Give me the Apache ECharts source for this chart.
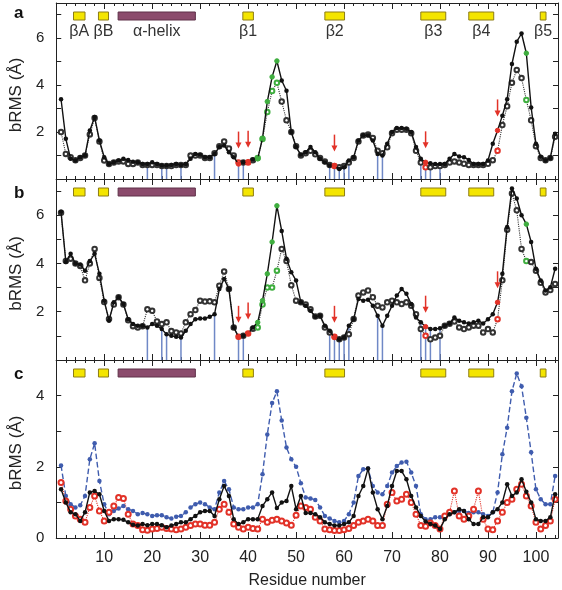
<!DOCTYPE html>
<html><head><meta charset="utf-8">
<script src="https://cdn.jsdelivr.net/npm/echarts@6/dist/echarts.min.js"></script>
<style>html,body{margin:0;padding:0;background:#fff}#chart{width:562px;height:590px}</style>
</head><body><div id="chart"></div>
<script>
const residues = [1,2,3,4,5,6,7,8,9,10,11,12,13,14,15,16,17,18,19,20,21,22,23,24,25,26,27,28,29,30,31,32,33,34,35,36,37,38,39,40,41,42,43,44,45,46,47,48,49,50,51,52,53,54,55,56,57,58,59,60,61,62,63,64,65,66,67,68,69,70,71,72,73,74,75,76,77,78,79,80,81,82,83,84,85,86,87,88,89,90,91,92,93,94,95,96,97,98,99,100,101,102,103,104];

const aFilled = [3.4,1.71,0.86,0.79,0.93,1.0,2.07,2.64,1.64,0.93,
 0.64,0.71,0.79,0.86,0.81,0.74,0.71,0.64,0.64,0.71,
 0.64,0.57,0.57,0.6,0.64,0.6,0.64,0.86,1.07,1.03,
 0.93,0.93,1.07,1.36,1.43,1.14,0.93,0.64,0.71,0.74,
 0.83,0.86,1.74,3.3,4.35,5.03,4.2,3.76,2.0,1.36,
 1.03,1.14,1.36,1.14,0.86,0.71,0.57,0.57,0.43,0.5,
 0.79,0.93,1.64,1.86,1.86,1.64,1.07,1.0,1.5,2.0,
 2.17,2.17,2.14,2.0,1.36,0.86,0.71,0.67,0.64,0.64,
 0.64,0.86,1.07,0.96,0.93,0.81,0.64,0.64,0.64,0.79,
 1.5,2.07,2.7,3.4,4.9,5.85,6.2,5.36,3.05,1.5,
 0.95,0.79,0.9,1.93];
const aOpen = [2.0,1.07,0.93,0.8,0.9,1.0,1.9,2.6,1.6,0.79,
 0.64,0.7,0.75,0.75,0.64,0.64,0.7,0.6,0.6,0.6,
 0.6,0.55,0.55,0.55,0.6,0.6,0.6,1.0,1.0,1.0,
 0.9,0.9,1.1,1.4,1.6,1.3,1.0,0.7,0.7,0.7,
 0.8,0.9,1.7,2.85,3.75,4.1,3.3,2.5,2.0,1.4,
 1.0,1.1,1.2,1.05,0.9,0.75,0.6,0.55,0.5,0.55,
 0.7,0.9,1.6,1.85,1.9,1.75,1.2,1.1,1.35,1.95,
 2.1,2.1,2.1,1.95,1.2,0.7,0.5,0.5,0.55,0.55,
 0.6,0.7,0.75,0.7,0.65,0.6,0.6,0.6,0.6,0.65,
 0.8,1.2,2.3,3.1,4.1,4.65,4.3,3.37,2.5,1.4,
 0.9,0.8,0.9,1.8];
const bFilled = [6.14,4.06,4.4,4.0,3.96,3.7,4.1,4.4,3.57,2.46,
 1.63,2.39,2.6,2.32,1.69,1.49,1.42,1.42,1.35,1.49,
 1.42,1.28,1.07,1.0,0.96,0.93,1.21,1.49,1.69,1.72,
 1.72,1.79,1.9,2.94,3.36,2.94,1.35,0.96,1.0,1.1,
 1.35,1.56,2.46,3.57,4.89,6.39,5.35,4.2,3.64,3.29,
 2.39,2.25,2.04,1.79,1.83,1.42,1.21,0.93,0.86,0.93,
 1.42,1.69,2.53,2.46,2.5,2.25,1.83,1.42,1.83,2.25,
 2.67,2.94,2.74,2.32,1.76,1.56,1.38,1.28,1.28,1.32,
 1.42,1.51,1.76,1.63,1.56,1.51,1.56,1.63,1.51,1.69,
 1.9,2.39,3.57,5.51,7.11,6.69,6.0,5.63,4.89,3.78,
 3.29,2.88,3.01,3.78];
const bOpen = [6.1,4.1,4.2,4.0,3.9,3.3,4.0,4.6,3.4,2.4,
 1.7,2.3,2.6,2.3,1.65,1.4,1.35,1.4,2.1,2.04,
 1.6,1.49,1.56,1.2,1.14,1.1,1.56,1.9,2.07,2.46,
 2.42,2.43,2.39,3.08,3.67,2.94,1.35,0.96,1.0,1.1,
 1.3,1.35,2.3,3.0,3.0,3.7,4.6,4.1,3.1,2.46,
 2.39,2.3,2.1,1.8,1.83,1.35,1.14,0.96,0.86,0.93,
 1.07,1.7,2.67,2.8,2.88,2.6,2.25,2.18,2.39,2.46,
 2.39,2.32,2.39,2.25,1.9,1.28,1.0,0.86,0.93,1.0,
 1.42,1.5,1.6,1.35,1.28,1.35,1.42,1.42,1.14,1.28,
 1.14,1.69,3.3,5.4,6.9,6.2,4.6,4.1,4.06,3.7,
 3.2,2.8,2.9,3.15];
const cBlue = [2.04,1.18,0.95,0.86,0.92,1.18,2.21,2.66,1.6,0.95,
 0.67,0.76,0.83,0.9,0.81,0.76,0.67,0.7,0.67,0.62,
 0.64,0.64,0.58,0.55,0.6,0.62,0.72,0.86,0.95,1.0,
 0.95,0.86,0.81,1.28,1.6,1.37,0.86,0.81,0.81,0.86,
 0.86,0.95,1.79,2.91,3.79,4.12,3.3,2.54,2.21,2.0,
 1.54,1.14,1.11,1.07,0.86,0.62,0.55,0.48,0.44,0.48,
 0.67,1.0,1.74,1.93,1.95,1.46,1.28,1.23,1.46,1.84,
 2.02,2.12,2.14,1.84,1.46,0.67,0.53,0.53,0.58,0.58,
 0.62,0.67,0.72,0.76,0.76,0.7,0.72,0.72,0.67,0.62,
 0.72,1.28,2.35,3.1,4.12,4.62,4.26,3.38,2.41,1.37,
 1.09,0.95,0.95,1.74];
const cBlack = [1.37,1.0,0.72,0.67,0.48,0.72,1.28,1.32,1.23,0.76,
 0.48,0.53,0.53,0.51,0.44,0.37,0.35,0.39,0.36,0.39,
 0.39,0.36,0.3,0.35,0.39,0.44,0.44,0.53,0.62,0.72,
 0.76,0.76,0.62,1.09,1.46,1.18,0.53,0.39,0.44,0.53,
 0.53,0.53,0.9,1.09,1.28,0.84,1.0,1.04,1.46,0.81,
 1.18,0.7,0.7,0.67,0.58,0.44,0.39,0.35,0.35,0.39,
 0.44,0.62,1.18,1.46,1.95,1.28,0.81,0.53,0.9,1.46,
 1.88,1.88,1.65,1.18,0.86,0.62,0.46,0.39,0.35,0.25,
 0.53,0.67,0.72,0.81,0.76,0.53,0.39,0.39,0.58,0.58,
 0.72,0.81,1.0,1.51,1.18,1.28,1.65,1.3,1.0,0.53,
 0.48,0.48,0.58,1.23];
const cRed = [1.56,1.04,0.81,0.62,0.53,0.44,0.86,1.18,0.76,0.48,
 0.72,0.9,1.14,1.11,0.67,0.39,0.35,0.23,0.22,0.25,
 0.27,0.3,0.27,0.25,0.23,0.25,0.3,0.35,0.39,0.39,
 0.36,0.36,0.44,0.81,0.95,0.72,0.39,0.3,0.25,0.3,
 0.27,0.25,0.53,0.44,0.5,0.53,0.48,0.42,0.36,0.64,
 0.9,0.86,0.81,0.58,0.48,0.25,0.23,0.21,0.21,0.23,
 0.27,0.35,0.44,0.48,0.53,0.48,0.35,0.35,0.95,1.28,
 1.04,1.09,1.23,1.0,0.67,0.35,0.33,0.42,0.35,0.25,
 0.62,0.72,1.32,0.62,0.53,0.62,0.81,1.32,0.53,0.25,
 0.23,0.48,0.72,1.0,1.09,1.37,1.51,1.18,0.9,0.44,
 0.25,0.35,0.48,1.09];

const greenResidues = [42,43,44,45,46,98];
const redResidues = [38,40,58,77,92];
const arrowResidues = [38,40,58,77,92];
const contactResidues = [19,22,23,26,33,38,39,57,58,59,60,61,67,68,76,77,78,80];

const ssNames = ['βA','βB','α-helix','β1','β2','β3','β4','β5'];
const ssStart = [3.6,8.8,12.9,38.9,56.0,76.0,86.0,100.9];
const ssEnd   = [6.0,10.9,29.0,41.1,60.1,81.2,91.2,102.1];
const ssType  = ['strand','strand','helix','strand','strand','strand','strand','strand'];

const yTickLabelsAB = ['2','4','6'];
const yTickLabelsC = ['0','2','4'];
const xTickLabels = ['10','20','30','40','50','60','70','80','90','100'];

const FONT = 'Liberation Sans, Arial, sans-serif';
const AX = '#222';
const X_MAX = 104.6;
const GREEN = '#3fae3f', RED = '#e23228', BLUE = '#3f5cae';

const grids = [
  {left:48, top:3, width:510, height:176},
  {left:48, top:179, width:510, height:181},
  {left:48, top:360, width:510, height:179}
];
const yMax = [7.5, 7.5, 5];

function colored(vals){
  return residues.map((r,i)=>{
    if (greenResidues.includes(r)) return {value:[r,vals[i]], itemStyle:{color:GREEN, borderColor:GREEN}};
    if (redResidues.includes(r)) return {value:[r,vals[i]], itemStyle:{color:RED, borderColor:RED}};
    return [r, vals[i]];
  });
}
function plain(vals){ return residues.map((r,i)=>[r, vals[i]]); }

const xAxes = [], yAxes = [];
grids.forEach((g,i)=>{
  const last = i===2;
  const common = {gridIndex:i, type:'value', min:0, max:X_MAX, interval:10,
    axisLine:{show:true, onZero:false, lineStyle:{color:AX, width:1}},
    axisTick:{show:true, inside:true, length:6, lineStyle:{color:AX}},
    minorTick:{show:true, splitNumber:5, length:3, lineStyle:{color:AX}},
    splitLine:{show:false}, minorSplitLine:{show:false}};
  xAxes.push(Object.assign({}, common, {position:'bottom',
    axisLabel:{show:last, margin:12, fontSize:16, color:AX, fontFamily:FONT,
      formatter:v=> xTickLabels.includes(String(v)) ? String(v) : ''},
    name: last ? 'Residue number' : '', nameLocation:'middle', nameGap:35,
    nameTextStyle:{fontSize:16, color:AX, fontFamily:FONT}}));
  xAxes.push(Object.assign({}, common, {position:'top', axisLabel:{show:false}}));
  const labels = last ? yTickLabelsC : yTickLabelsAB;
  const ycommon = {gridIndex:i, type:'value', min:0, max:yMax[i], interval:1,
    axisLine:{show:true, onZero:false, lineStyle:{color:AX, width:1}},
    axisTick:{show:true, inside:true, length:5, lineStyle:{color:AX}},
    splitLine:{show:false}};
  yAxes.push(Object.assign({}, ycommon, {position:'left',
    axisLabel:{margin:12, fontSize:15, color:AX, fontFamily:FONT,
      formatter:v=> labels.includes(String(v)) ? String(v) : ''},
    name:'bRMS (Å)', nameLocation:'middle', nameGap:30,
    nameTextStyle:{fontSize:17, color:AX, fontFamily:FONT, padding:[0,8,0,0]}}));
  yAxes.push(Object.assign({}, ycommon, {position:'right', axisLabel:{show:false}}));
});

function ssSeries(i, showLabel){
  return {type:'custom', coordinateSystem:'cartesian2d', xAxisIndex:2*i, yAxisIndex:2*i, z:5, silent:true,
    encode:{x:[0,1]},
    data: ssStart.map((s,k)=>[s, ssEnd[k], ssType[k]==='helix'?1:0]),
    renderItem:(params, api)=>{
      const x0 = api.coord([api.value(0), 0])[0];
      const x1 = api.coord([api.value(1), 0])[0];
      const top = params.coordSys.y;
      const helix = api.value(2) === 1;
      const ch = [{type:'rect', shape:{x:x0, y:top+9, width:x1-x0, height:8},
        style:{fill: helix ? '#8b4b6c' : '#f4e500', stroke: helix ? '#5e3049' : '#8d7d14', lineWidth:1}}];
      if (showLabel) ch.push({type:'text', style:{text:ssNames[params.dataIndex], x:(x0+x1)/2, y:top+21,
        align:'center', verticalAlign:'top', fontSize:16, fill:'#333', fontFamily:FONT}});
      return {type:'group', children:ch};
    }};
}
function arrowSeries(i, f, o){
  return {type:'custom', coordinateSystem:'cartesian2d', xAxisIndex:2*i, yAxisIndex:2*i, z:6, silent:true,
    data: arrowResidues.map(r=>[r, Math.max(f[r-1], o[r-1])]),
    renderItem:(params, api)=>{
      const p = api.coord([api.value(0), api.value(1)]);
      return {type:'group', children:[
        {type:'line', shape:{x1:p[0], y1:p[1]-31, x2:p[0], y2:p[1]-19}, style:{stroke:RED, lineWidth:1.5}},
        {type:'polygon', shape:{points:[[p[0]-3,p[1]-20],[p[0]+3,p[1]-20],[p[0],p[1]-14]]}, style:{fill:RED}}
      ]};
    }};
}
function contactSeries(i, f){
  return {type:'bar', xAxisIndex:2*i, yAxisIndex:2*i, barWidth:1.5, z:1, silent:true,
    itemStyle:{color:'#6f88c6'},
    data: contactResidues.map(r=>[r, f[r-1]])};
}
function filledLine(i, vals){
  return {type:'line', xAxisIndex:2*i, yAxisIndex:2*i, z:4, symbol:'circle', symbolSize:4.5,
    itemStyle:{color:'#111'}, lineStyle:{color:'#111', width:1.4}, data: colored(vals)};
}
function openLine(i, vals){
  return {type:'line', xAxisIndex:2*i, yAxisIndex:2*i, z:3, symbol:'emptyCircle', symbolSize:4.5,
    itemStyle:{color:'#333', borderWidth:1}, lineStyle:{color:'#333', width:1.1, type:'dotted'}, data: colored(vals)};
}

const series = [
  contactSeries(0, aFilled), openLine(0, aOpen), filledLine(0, aFilled), ssSeries(0, true), arrowSeries(0, aFilled, aOpen),
  contactSeries(1, bFilled), openLine(1, bOpen), filledLine(1, bFilled), ssSeries(1, false), arrowSeries(1, bFilled, bOpen),
  {type:'line', xAxisIndex:4, yAxisIndex:4, z:3, symbol:'circle', symbolSize:4.5,
    itemStyle:{color:BLUE}, lineStyle:{color:BLUE, width:1.4, type:'dashed'}, data: plain(cBlue)},
  {type:'line', xAxisIndex:4, yAxisIndex:4, z:3, symbol:'emptyCircle', symbolSize:5,
    itemStyle:{color:RED, borderWidth:1}, lineStyle:{color:RED, width:1.1, type:'dotted'}, data: plain(cRed)},
  {type:'line', xAxisIndex:4, yAxisIndex:4, z:4, symbol:'circle', symbolSize:4.5,
    itemStyle:{color:'#111'}, lineStyle:{color:'#111', width:1.4}, data: plain(cBlack)},
  ssSeries(2, false)
];

const chart = echarts.init(document.getElementById('chart'), null, {renderer:'canvas'});
chart.setOption({
  animation:false,
  backgroundColor:'#fff',
  title:[
    {text:'a', left:9, top:0, textStyle:{fontSize:17, fontWeight:'bold', color:'#111', fontFamily:FONT}},
    {text:'b', left:9, top:180, textStyle:{fontSize:17, fontWeight:'bold', color:'#111', fontFamily:FONT}},
    {text:'c', left:9, top:361, textStyle:{fontSize:17, fontWeight:'bold', color:'#111', fontFamily:FONT}}
  ],
  grid: grids,
  xAxis: xAxes,
  yAxis: yAxes,
  series: series
});
</script></body></html>
